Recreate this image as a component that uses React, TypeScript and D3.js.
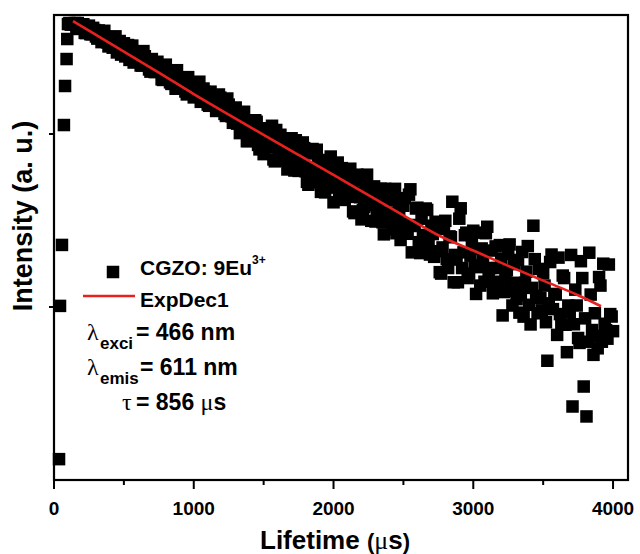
import React from "react";
import * as d3 from "d3";

// Rising edge of the decay (time in µs, intensity in counts)
const riseTimes = [36, 43, 57, 71, 79, 90, 95, 100];
const riseIntensity = [13.2, 101.5, 228.5, 1127, 1895, 2713, 3541, 4323];

// Decay record: channel width 10 µs, first channel at 110 µs.
// Even channels (110, 130, 150 ... µs)
const decayStart = 110;
const channelWidth = 10;
const evenChannelIntensity = [
  4381, 4352, 4381, 4381, 4120, 4312, 3835, 4232, 3769, 3992,
  3560, 3923, 3494, 3603, 3209, 3636, 3239, 2962, 3448, 3107,
  2809, 3269, 2946, 2589, 2931, 2684, 2488, 2816, 2575, 2294,
  2599, 2285, 2420, 2071, 2439, 2175, 1990, 2193, 1827, 2041,
  1869, 2060, 1694, 1842, 1976, 1649, 1794, 1535, 1832, 1589,
  1456, 1669, 1527, 1378, 1623, 1448, 1272, 1479, 1266, 1358,
  1148,
  1012, 1259, 1108, 912, 1148, 958, 1176, 815, 987, 1075,
  839, 976, 713, 1055, 822, 714, 937, 624, 829, 701,
  920, 612, 712, 829, 529, 641, 819, 567, 696, 463,
  608, 708, 490, 634, 515, 684, 421, 530, 593, 433,
  532, 349, 582, 431, 364, 503, 426, 315, 498, 359,
  423, 309, 482, 352, 310, 417, 267, 359, 304, 426,
  265, 479, 298, 371, 237, 324, 249, 364, 201, 264,
  311, 210,
  156, 283, 189, 256, 406, 200, 139, 372, 207, 269,
  156, 231, 174, 269, 133, 192, 267, 150, 212, 129,
  168, 228, 89.4, 144, 203, 124, 177, 111, 92.8, 208,
  138, 225, 79.3, 295, 116, 166, 95.7, 133, 48.9, 182,
  97.2, 118, 193, 79, 147, 54.8, 93, 26.6, 126, 66.2,
  184, 34.7, 23.3, 206, 73.6, 92, 57.7, 133, 178, 73.5,
  176, 88.1,
];
// Odd channels (120, 140, 160 ... µs)
const oddChannelIntensity = [
  4287, 4306, 4049, 4180, 4310, 3841, 4183, 3777, 4109, 3663,
  3968, 3397, 3951, 3388, 3541, 3155, 3669, 3185, 2877, 3345,
  3050, 2682, 3244, 2745, 2907, 2489, 3015, 2582, 2362, 2712,
  2282, 2616, 2365, 2054, 2517, 2126, 1948, 2235, 2338, 1874,
  2030, 1761, 2132, 1828, 1628, 1943, 2006, 1608, 1748, 1479,
  1757, 1525, 1359, 1692, 1506, 1307, 1604, 1374, 1161, 1423,
  1298, 1026, 1345, 908, 1143, 992, 1201, 865, 1075, 765,
  1076, 898, 1116, 695, 864, 990, 705, 877, 730, 945,
  615, 827, 689, 894, 609, 509, 772, 644, 811, 525,
  666, 460, 543, 741, 403, 580, 471, 635, 416, 504,
  630, 357, 456, 538, 321, 378, 582, 388, 462, 312,
  399, 483, 263, 327, 418, 281, 482, 329, 244, 385,
  282, 446, 207, 294, 375, 205, 261, 371, 225, 295,
  195, 291, 159, 221, 315, 168, 253, 139, 188, 324,
  168, 260, 147, 198, 276, 119, 170, 218, 140, 291,
  168, 120, 224, 140, 190, 122, 163, 230, 102, 138,
  187, 117, 88, 160, 103, 129, 189, 92, 113, 157,
  81.7, 105, 201, 119, 69, 91, 152, 79, 102, 200,
  79.5, 102, 62, 147, 86, 63, 118, 52.9, 68, 149,
  63, 80, 65.6, 91, 72.5,
];

// ExpDec1 fit curve
const fitTimes = [136, 250, 500, 750, 1000, 1250, 1500, 1750, 2000, 2250, 2500, 2750, 3000, 3250, 3500, 3750, 3914];
const fitIntensity = [4498, 3960, 2993, 2264, 1702, 1295, 989, 757, 580, 443, 339, 260, 212, 173, 142, 117, 101];

const xTicks = [0, 1000, 2000, 3000, 4000];
const xMinorTicks = [500, 1500, 2500, 3500];
const yTicks = [100, 1000];

const SANS = "'Liberation Sans', Arial, Helvetica, sans-serif";
const SERIF = "'Liberation Serif', 'DejaVu Serif', serif";

export default function App() {
  const W = 640;
  const H = 554;
  const left = 54, right = 628, top = 15, bottom = 480;
  const x = d3.scaleLinear().domain([0, 4107]).range([left, right]);
  const y = d3.scaleLog().domain([10, 4875]).range([bottom, top]);

  const points = [
    ...riseTimes.map((t, i) => ({ t, v: riseIntensity[i] })),
    ...evenChannelIntensity.map((v, i) => ({ t: decayStart + 2 * i * channelWidth, v })),
    ...oddChannelIntensity.map((v, i) => ({ t: decayStart + (2 * i + 1) * channelWidth, v })),
  ];
  const fitData: [number, number][] = fitTimes.map((t, i) => [t, fitIntensity[i]]);
  const line = d3
    .line<[number, number]>()
    .x((d) => x(d[0]))
    .y((d) => y(d[1]))
    .curve(d3.curveMonotoneX);

  const sq = 12.5;
  const red = "#e8201e";

  return (
    <svg
      width={W}
      height={H}
      viewBox={`0 0 ${W} ${H}`}
      style={{ position: "absolute", left: 0, top: 0, background: "#fff" }}
    >
      <rect x={0} y={0} width={W} height={H} fill="#fff" />
      {/* data */}
      <g fill="#000">
        {points.map((p, i) => (
          <rect key={i} x={x(p.t) - sq / 2} y={y(p.v) - sq / 2} width={sq} height={sq} />
        ))}
      </g>
      <path d={line(fitData) || ""} fill="none" stroke={red} strokeWidth={2.6} />

      {/* frame */}
      <rect x={left} y={top} width={right - left} height={bottom - top} fill="none" stroke="#000" strokeWidth={2.2} />
      {/* ticks */}
      <g stroke="#000" strokeWidth={2}>
        {xTicks.map((t) => (
          <line key={t} x1={x(t)} x2={x(t)} y1={bottom} y2={bottom + 9} />
        ))}
        {xMinorTicks.map((t) => (
          <line key={t} x1={x(t)} x2={x(t)} y1={bottom} y2={bottom + 5} />
        ))}
        {yTicks.map((t) => (
          <line key={t} x1={left} x2={left - 5} y1={y(t)} y2={y(t)} />
        ))}
      </g>
      <g fontFamily={SANS} fontWeight="bold" fontSize={19} textAnchor="middle" fill="#000">
        {xTicks.map((t) => (
          <text key={t} x={x(t)} y={515}>
            {t}
          </text>
        ))}
      </g>
      {/* axis titles */}
      <text x={335} y={549} textAnchor="middle" fontFamily={SANS} fontWeight="bold" fontSize={26} fill="#000">
        Lifetime{" "}
        <tspan fontSize={22}>(</tspan>
        <tspan fontFamily={SERIF} fontWeight="normal" fontSize={26}>μ</tspan>
        <tspan>s</tspan>
        <tspan fontSize={22}>)</tspan>
      </text>
      <text
        transform="translate(32,216) rotate(-90)"
        textAnchor="middle"
        fontFamily={SANS}
        fontWeight="bold"
        fontSize={27}
        fill="#000"
      >
        Intensity (a. u.)
      </text>

      {/* legend */}
      <rect x={113 - sq / 2} y={272 - sq / 2} width={sq} height={sq} fill="#000" />
      <text x={140} y={275} fontFamily={SANS} fontWeight="bold" fontSize={21} fill="#000">
        CGZO: 9Eu
        <tspan fontSize={12} dy={-11}>3+</tspan>
      </text>
      <line x1={83} x2={135} y1={296} y2={296} stroke={red} strokeWidth={2.6} />
      <text x={140} y={307} fontFamily={SANS} fontWeight="bold" fontSize={21} fill="#000">
        ExpDec1
      </text>

      {/* annotations */}
      <g fontFamily={SANS} fontWeight="bold" fill="#000">
        <text x={87} y={340} fontFamily={SERIF} fontWeight="normal" fontSize={24}>λ</text>
        <text x={100} y={349} fontSize={17}>exci</text>
        <text x={136} y={340} fontSize={23}>= 466 nm</text>

        <text x={87} y={375} fontFamily={SERIF} fontWeight="normal" fontSize={24}>λ</text>
        <text x={100} y={384} fontSize={17}>emis</text>
        <text x={140} y={375} fontSize={23}>= 611 nm</text>

        <text x={122} y={410} fontFamily={SERIF} fontWeight="normal" fontSize={24}>τ</text>
        <text x={136} y={410} fontSize={23}>
          = 856 <tspan fontFamily={SERIF} fontWeight="normal" fontSize={24}>μ</tspan>s
        </text>
      </g>
    </svg>
  );
}
